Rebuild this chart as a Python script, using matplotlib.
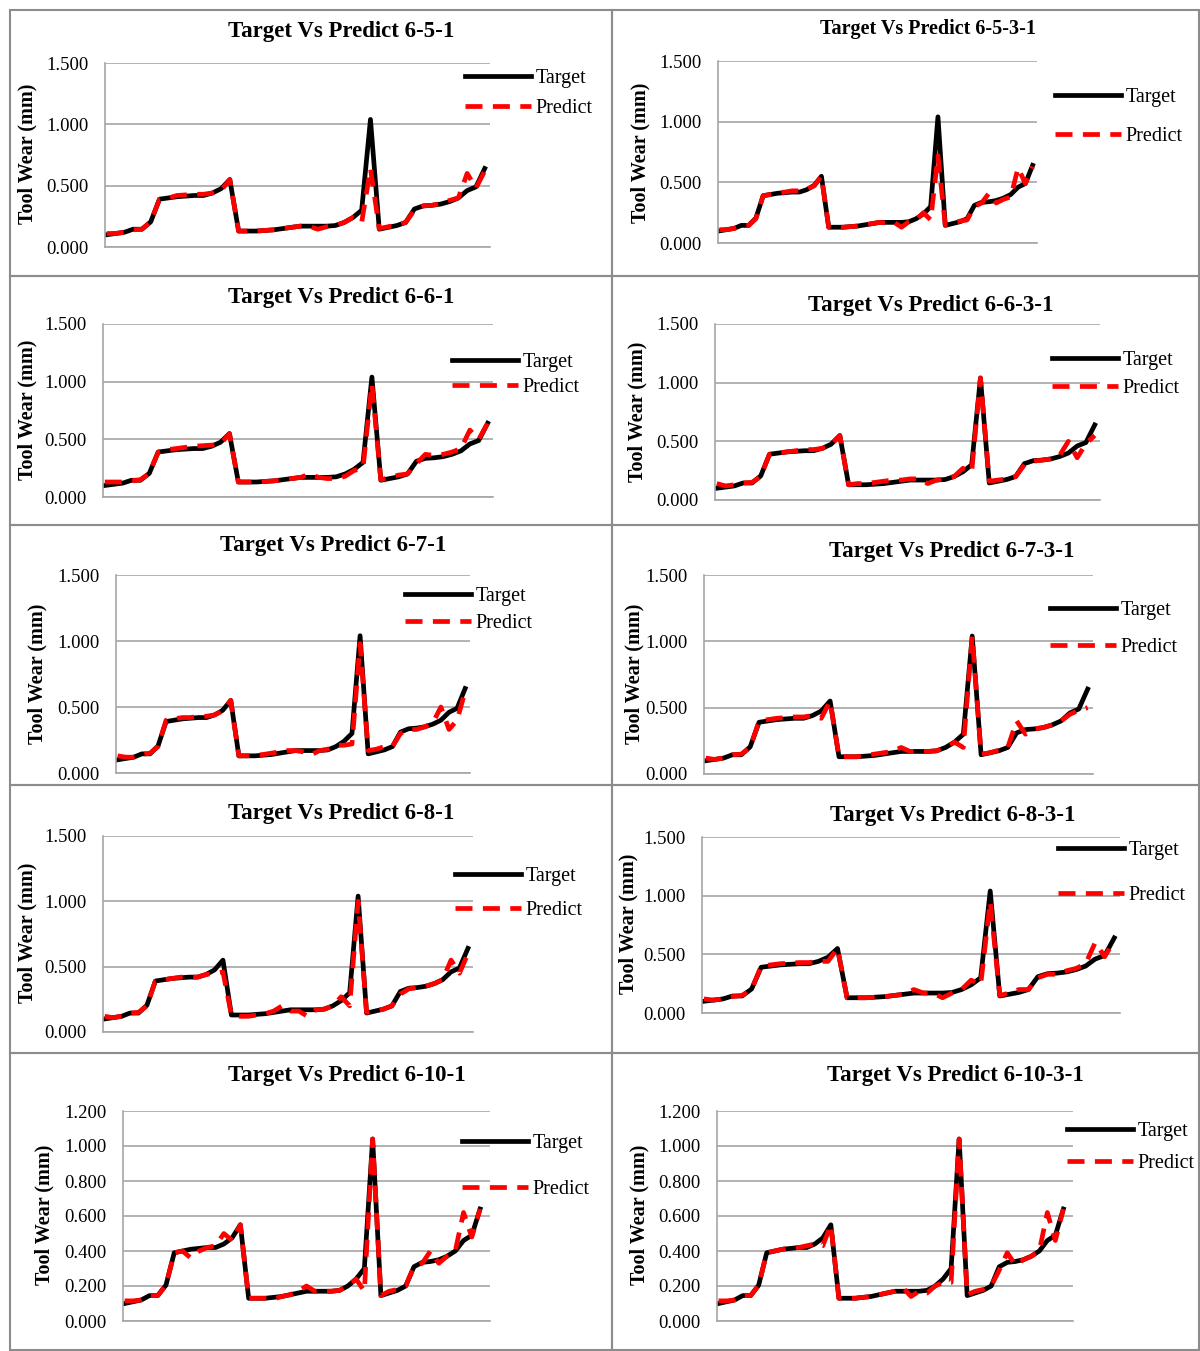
import matplotlib.pyplot as plt
from matplotlib.patches import Rectangle

plt.rcParams["font.family"] = ["Liberation Serif", "DejaVu Serif"]

W, H = 1200, 1351

# %% data: tool wear (mm), 44 samples

target = [0.100, 0.110, 0.120, 0.145, 0.145, 0.205, 0.390, 0.400, 0.410, 0.415, 0.420, 0.420, 0.440, 0.475, 0.550,
          0.130, 0.130, 0.130, 0.135, 0.140, 0.150, 0.160, 0.170, 0.170, 0.170, 0.170, 0.175, 0.200, 0.240, 0.300, 1.040,
          0.145, 0.160, 0.175, 0.200, 0.310, 0.335, 0.340, 0.350, 0.370, 0.400, 0.460, 0.490, 0.640]

predict_6_5_1 = [0.110, 0.110, 0.120, 0.140, 0.145, 0.205, 0.390, 0.400, 0.420, 0.425, 0.430, 0.430, 0.440, 0.460, 0.550,
                 0.130, 0.130, 0.130, 0.135, 0.140, 0.150, 0.160, 0.170, 0.170, 0.145, 0.165, 0.175, 0.200, 0.240, 0.200, 0.640,
                 0.150, 0.165, 0.180, 0.200, 0.300, 0.335, 0.340, 0.355, 0.380, 0.400, 0.600, 0.480, 0.620]

predict_6_5_3_1 = [0.110, 0.110, 0.120, 0.140, 0.145, 0.200, 0.390, 0.400, 0.410, 0.420, 0.430, 0.430, 0.445, 0.470, 0.550,
                   0.130, 0.130, 0.130, 0.135, 0.140, 0.150, 0.160, 0.170, 0.165, 0.170, 0.130, 0.175, 0.190, 0.250, 0.190, 0.720,
                   0.150, 0.165, 0.180, 0.190, 0.300, 0.330, 0.410, 0.330, 0.360, 0.380, 0.620, 0.490, 0.630]

predict_6_6_1 = [0.130, 0.130, 0.130, 0.140, 0.150, 0.205, 0.390, 0.410, 0.420, 0.430, 0.440, 0.445, 0.450, 0.460, 0.550,
                 0.130, 0.130, 0.130, 0.135, 0.140, 0.150, 0.160, 0.170, 0.200, 0.170, 0.160, 0.160, 0.180, 0.230, 0.250, 0.980,
                 0.150, 0.170, 0.190, 0.200, 0.290, 0.370, 0.360, 0.370, 0.390, 0.420, 0.580, 0.500, 0.640]

predict_6_6_3_1 = [0.140, 0.120, 0.130, 0.145, 0.150, 0.200, 0.390, 0.400, 0.410, 0.420, 0.430, 0.430, 0.440, 0.470, 0.550,
                   0.130, 0.140, 0.140, 0.150, 0.160, 0.170, 0.170, 0.180, 0.180, 0.140, 0.170, 0.180, 0.200, 0.270, 0.240, 1.040,
                   0.160, 0.170, 0.180, 0.200, 0.300, 0.330, 0.340, 0.350, 0.380, 0.500, 0.360, 0.480, 0.550]

predict_6_7_1 = [0.130, 0.120, 0.120, 0.140, 0.150, 0.200, 0.400, 0.410, 0.420, 0.420, 0.430, 0.430, 0.440, 0.470, 0.550,
                 0.130, 0.130, 0.135, 0.140, 0.150, 0.160, 0.170, 0.170, 0.160, 0.140, 0.170, 0.180, 0.210, 0.210, 0.220, 0.980,
                 0.170, 0.180, 0.200, 0.200, 0.300, 0.330, 0.330, 0.350, 0.380, 0.500, 0.330, 0.400, 0.620]

predict_6_7_3_1 = [0.120, 0.110, 0.120, 0.145, 0.150, 0.200, 0.400, 0.410, 0.420, 0.425, 0.430, 0.430, 0.440, 0.420, 0.550,
                   0.130, 0.130, 0.130, 0.140, 0.150, 0.160, 0.170, 0.200, 0.170, 0.170, 0.170, 0.175, 0.200, 0.240, 0.200, 1.040,
                   0.150, 0.160, 0.180, 0.200, 0.400, 0.300, 0.340, 0.350, 0.370, 0.400, 0.450, 0.480, 0.500]

predict_6_8_1 = [0.120, 0.110, 0.120, 0.145, 0.150, 0.200, 0.390, 0.400, 0.410, 0.420, 0.420, 0.420, 0.440, 0.450, 0.460,
                 0.130, 0.120, 0.120, 0.130, 0.140, 0.160, 0.200, 0.160, 0.160, 0.120, 0.170, 0.175, 0.200, 0.270, 0.200, 1.000,
                 0.150, 0.160, 0.175, 0.200, 0.290, 0.330, 0.340, 0.350, 0.370, 0.400, 0.550, 0.450, 0.600]

predict_6_8_3_1 = [0.120, 0.110, 0.120, 0.140, 0.150, 0.200, 0.400, 0.410, 0.420, 0.425, 0.430, 0.430, 0.440, 0.440, 0.550,
                   0.130, 0.130, 0.130, 0.135, 0.140, 0.150, 0.160, 0.200, 0.170, 0.170, 0.130, 0.170, 0.200, 0.280, 0.240, 0.950,
                   0.150, 0.170, 0.200, 0.200, 0.300, 0.330, 0.330, 0.360, 0.380, 0.420, 0.600, 0.480, 0.620]

predict_6_10_1 = [0.115, 0.115, 0.120, 0.145, 0.145, 0.205, 0.390, 0.400, 0.360, 0.400, 0.420, 0.430, 0.500, 0.460, 0.550,
                  0.130, 0.130, 0.130, 0.125, 0.140, 0.150, 0.170, 0.200, 0.170, 0.170, 0.170, 0.175, 0.200, 0.240, 0.170, 1.040,
                  0.145, 0.170, 0.180, 0.200, 0.310, 0.330, 0.400, 0.330, 0.370, 0.400, 0.620, 0.480, 0.640]

predict_6_10_3_1 = [0.115, 0.115, 0.120, 0.145, 0.145, 0.205, 0.390, 0.400, 0.410, 0.420, 0.420, 0.430, 0.440, 0.430, 0.550,
                    0.130, 0.130, 0.130, 0.135, 0.140, 0.150, 0.160, 0.170, 0.190, 0.140, 0.170, 0.160, 0.200, 0.220, 0.220, 1.040,
                    0.150, 0.170, 0.180, 0.200, 0.290, 0.390, 0.320, 0.350, 0.370, 0.400, 0.620, 0.460, 0.640]

predicts = [predict_6_5_1, predict_6_5_3_1, predict_6_6_1, predict_6_6_3_1, predict_6_7_1,
            predict_6_7_3_1, predict_6_8_1, predict_6_8_3_1, predict_6_10_1, predict_6_10_3_1]

titles = ["Target Vs Predict 6-5-1", "Target Vs Predict 6-5-3-1",
          "Target Vs Predict 6-6-1", "Target Vs Predict 6-6-3-1",
          "Target Vs Predict 6-7-1", "Target Vs Predict 6-7-3-1",
          "Target Vs Predict 6-8-1", "Target Vs Predict 6-8-3-1",
          "Target Vs Predict 6-10-1", "Target Vs Predict 6-10-3-1"]

ticks_a = [0.0, 0.5, 1.0, 1.5]
ticks_b = [0.0, 0.2, 0.4, 0.6, 0.8, 1.0, 1.2]
y_ticks = [ticks_a] * 8 + [ticks_b] * 2

# %% layout, in pixels (left, top, right, bottom)

frames = [(10, 10, 612, 276), (612, 10, 1199, 276),
          (10, 276, 612, 525), (612, 276, 1199, 525),
          (10, 525, 612, 785), (612, 525, 1199, 785),
          (10, 785, 612, 1053), (612, 785, 1199, 1053),
          (10, 1053, 612, 1350), (612, 1053, 1199, 1350)]

plot_boxes = [(105, 63, 490, 247), (718, 61, 1037, 243),
              (103, 324, 493, 497), (715, 324, 1100, 500),
              (116, 575, 470, 773), (704, 575, 1093, 774),
              (103, 836, 473, 1032), (702, 837, 1120, 1013),
              (123, 1111, 490, 1321), (717, 1111, 1073, 1321)]

title_pos = [(341, 32), (928, 29), (341, 298), (931, 305), (333, 546),
             (952, 551), (341, 814), (953, 815), (347, 1076), (955, 1076)]
title_size = [16.5, 14.5, 16.5, 16.5, 16.5, 16.5, 16.5, 16.5, 16.5, 16.5]

ylabel_pos = [(27, 154), (640, 153), (27, 410), (637, 412), (37, 674),
              (634, 674), (27, 933), (628, 924), (44, 1215), (639, 1215)]

# legend: line start x, target row y, predict row y
legend_pos = [(465, 78, 109), (1055, 97, 137), (452, 362, 388), (1052, 360, 389),
              (405, 596, 624), (1050, 610, 648), (455, 876, 911), (1058, 850, 896),
              (462, 1143, 1190), (1067, 1131, 1164)]

grid_color = "#a6a6a6"
leg_fs = 14.5
leg_fs_px = leg_fs * 100 / 72

fig = plt.figure(figsize=(W / 100, H / 100), dpi=100)

for l, t, r, b in frames:
    fig.add_artist(Rectangle((l / W, 1 - b / H), (r - l) / W, (b - t) / H,
                             transform=fig.transFigure, fill=False,
                             edgecolor="#8c8c8c", lw=1.5))

xs = list(range(len(target)))

for i in range(10):
    l, t, r, b = plot_boxes[i]
    ax = fig.add_axes([l / W, 1 - b / H, (r - l) / W, (b - t) / H])
    ax.plot(xs, target, color="black", lw=3.4, solid_joinstyle="round",
            label="Target")
    ax.plot(xs, predicts[i], color="red", lw=3.4, dashes=(3.6, 2.2),
            label="Predict")

    ax.set_xlim(-0.2, 44.2 if i >= 8 else 43.6)
    ax.set_ylim(0, y_ticks[i][-1])
    ax.set_yticks(y_ticks[i])
    ax.set_yticklabels([f"{v:.3f}" for v in y_ticks[i]])
    ax.tick_params(axis="y", length=0, pad=12, labelsize=13.5)
    ax.set_xticks([])
    ax.yaxis.grid(True, color=grid_color, lw=1.2)
    ax.set_axisbelow(True)
    for side in ["top", "right"]:
        ax.spines[side].set_visible(False)
    for side in ["left", "bottom"]:
        ax.spines[side].set_color(grid_color)
        ax.spines[side].set_linewidth(1.2)

    ax.set_ylabel("Tool Wear (mm)", fontsize=14.5, fontweight="bold", va="center")
    lx, ly = ylabel_pos[i]
    ax.yaxis.set_label_coords(lx / W, 1 - ly / H, transform=fig.transFigure)

    cx, cy = title_pos[i]
    fig.text(cx / W, 1 - cy / H, titles[i], ha="center", va="center",
             fontsize=title_size[i], fontweight="bold")

    gx, gy1, gy2 = legend_pos[i]
    spacing = (gy2 - gy1) / leg_fs_px - 1.0
    ax.legend(loc="center left", bbox_to_anchor=(gx / W, 1 - (gy1 + gy2) / 2 / H),
              bbox_transform=fig.transFigure, frameon=False, borderpad=0,
              borderaxespad=0, handlelength=3.3, handletextpad=0.2,
              labelspacing=spacing, fontsize=leg_fs)

fig.savefig("out.png", dpi=100)
